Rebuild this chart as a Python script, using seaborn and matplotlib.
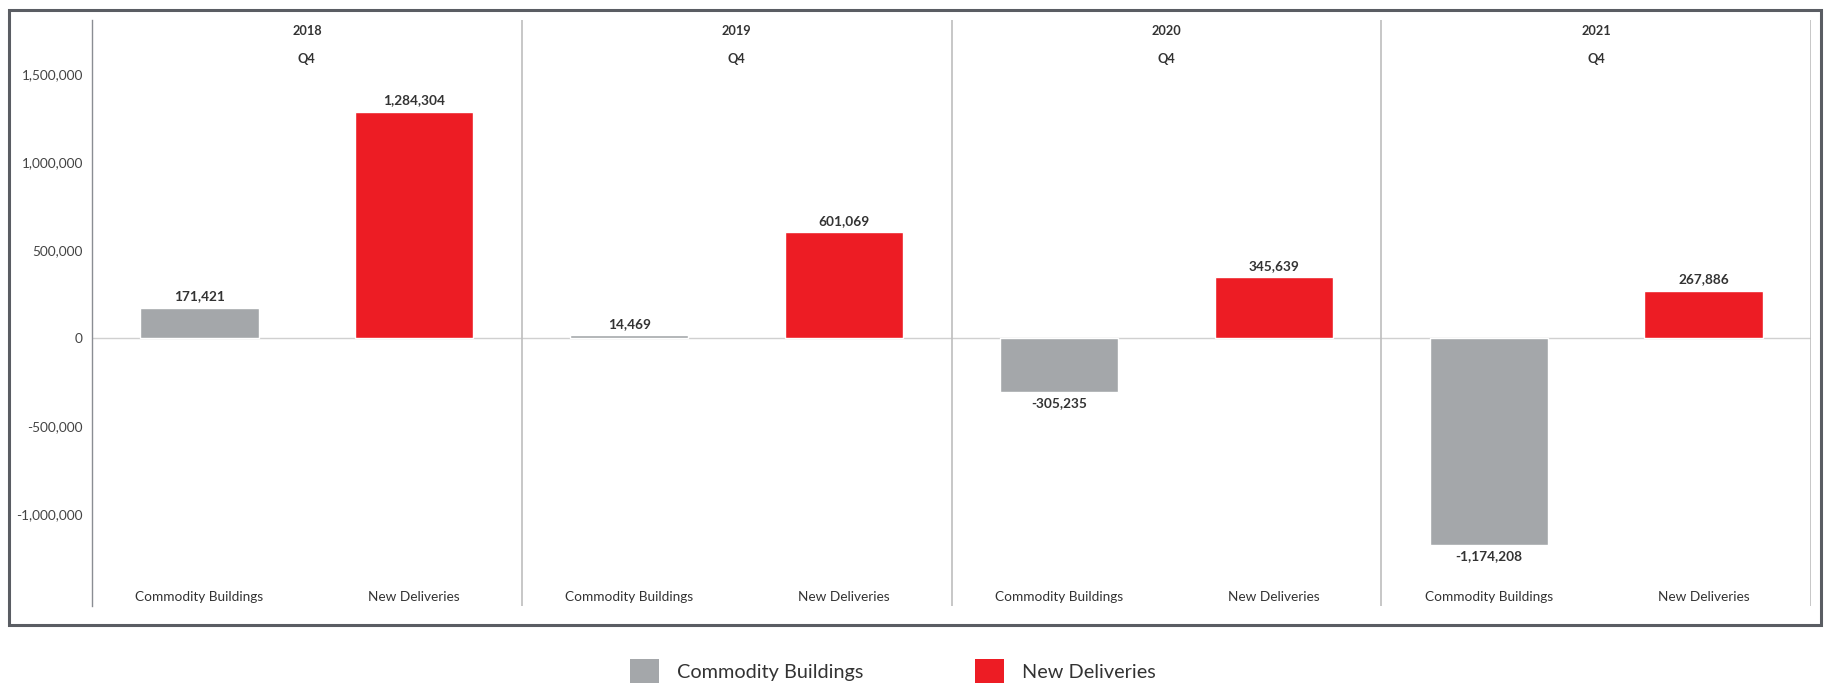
import matplotlib
matplotlib.use("Agg")
import matplotlib.pyplot as plt
import seaborn as sns
import pandas as pd
from matplotlib.patches import Rectangle, Patch
from matplotlib.ticker import FuncFormatter

years = ["2018", "2019", "2020", "2021"]
quarter = "Q4"
series = ["Commodity Buildings", "New Deliveries"]
commodity_buildings = [171421, 14469, -305235, -1174208]
new_deliveries = [1284304, 601069, 345639, 267886]
y_ticks = [-1000000, -500000, 0, 500000, 1000000, 1500000]
colors = {"Commodity Buildings": "#a4a7aa", "New Deliveries": "#ed1c24"}

rows = []
for i, yr in enumerate(years):
    rows.append({"slot": f"{yr} {series[0]}", "year": yr, "series": series[0], "value": commodity_buildings[i]})
    rows.append({"slot": f"{yr} {series[1]}", "year": yr, "series": series[1], "value": new_deliveries[i]})
df = pd.DataFrame(rows)
order = list(df["slot"])

sns.set_theme(style="white")
plt.rcParams["font.family"] = ["Lato", "DejaVu Sans"]

fig = plt.figure(figsize=(18.25, 6.83), dpi=100)
ax = fig.add_axes([92 / 1825, 1 - 606 / 683, (1811 - 92) / 1825, (606 - 20) / 683])

sns.barplot(data=df, x="slot", y="value", hue="series", order=order, palette=colors,
            dodge=False, width=0.55, ax=ax, legend=False, saturation=1)

ax.set_xlim(-0.5, 7.5)
ax.set_ylim(-1523000, 1807000)
ax.set_yticks(y_ticks)
ax.yaxis.set_major_formatter(FuncFormatter(lambda v, p: f"{int(v):,}"))
ax.tick_params(axis="y", which="major", length=0, labelsize=9.8, labelcolor="#444444", pad=6.5)
ax.set_yticks([0], minor=True)
ax.tick_params(axis="y", which="minor", length=5, width=1.0, color="#c8c8c8")
ax.set_xticks([])
ax.set_xlabel("")
ax.set_ylabel("")
for s in ["top", "bottom", "right"]:
    ax.spines[s].set_visible(False)
ax.spines["left"].set_color("#8a8d93")
ax.spines["left"].set_linewidth(1.0)

ax.axhline(0, color="#d0d0d0", lw=1.0, zorder=0)
for xv in [1.5, 3.5, 5.5, 7.5]:
    ax.axvline(xv, color="#bdbdbd", lw=1.2, zorder=0)

for c in ax.containers:
    ax.bar_label(c, labels=[f"{int(v):,}" for v in c.datavalues], padding=4,
                 fontsize=9.8, fontweight="bold", color="#333333")

trans = ax.get_xaxis_transform()
for i, yr in enumerate(years):
    cx = 2 * i + 0.5
    ax.text(cx, 0.9805, yr, transform=trans, ha="center", va="center",
            fontsize=9.2, fontweight="bold", color="#333333")
    ax.text(cx, 0.933, quarter, transform=trans, ha="center", va="center",
            fontsize=9.2, fontweight="bold", color="#333333")
    ax.text(2 * i, 0.016, series[0], transform=trans, ha="center", va="center",
            fontsize=9.8, color="#333333")
    ax.text(2 * i + 1, 0.016, series[1], transform=trans, ha="center", va="center",
            fontsize=9.8, color="#333333")

# outer frame
fig.patches.append(Rectangle((9 / 1825, 1 - 625 / 683), (1821 - 9) / 1825, (625 - 10) / 683,
                             transform=fig.transFigure, fill=False, edgecolor="#5a5d63",
                             linewidth=2.2))

handles = [Patch(facecolor=colors[s], edgecolor="none", label=s) for s in series]
fig.legend(handles=handles, loc="center", bbox_to_anchor=(893 / 1825, 1 - 671 / 683), ncol=2,
           frameon=False, fontsize=14.3, handlelength=1.45, handleheight=1.45,
           columnspacing=5.6, handletextpad=0.92, labelcolor="#333333",
           borderpad=0, borderaxespad=0)

fig.savefig("out.png", dpi=100)
